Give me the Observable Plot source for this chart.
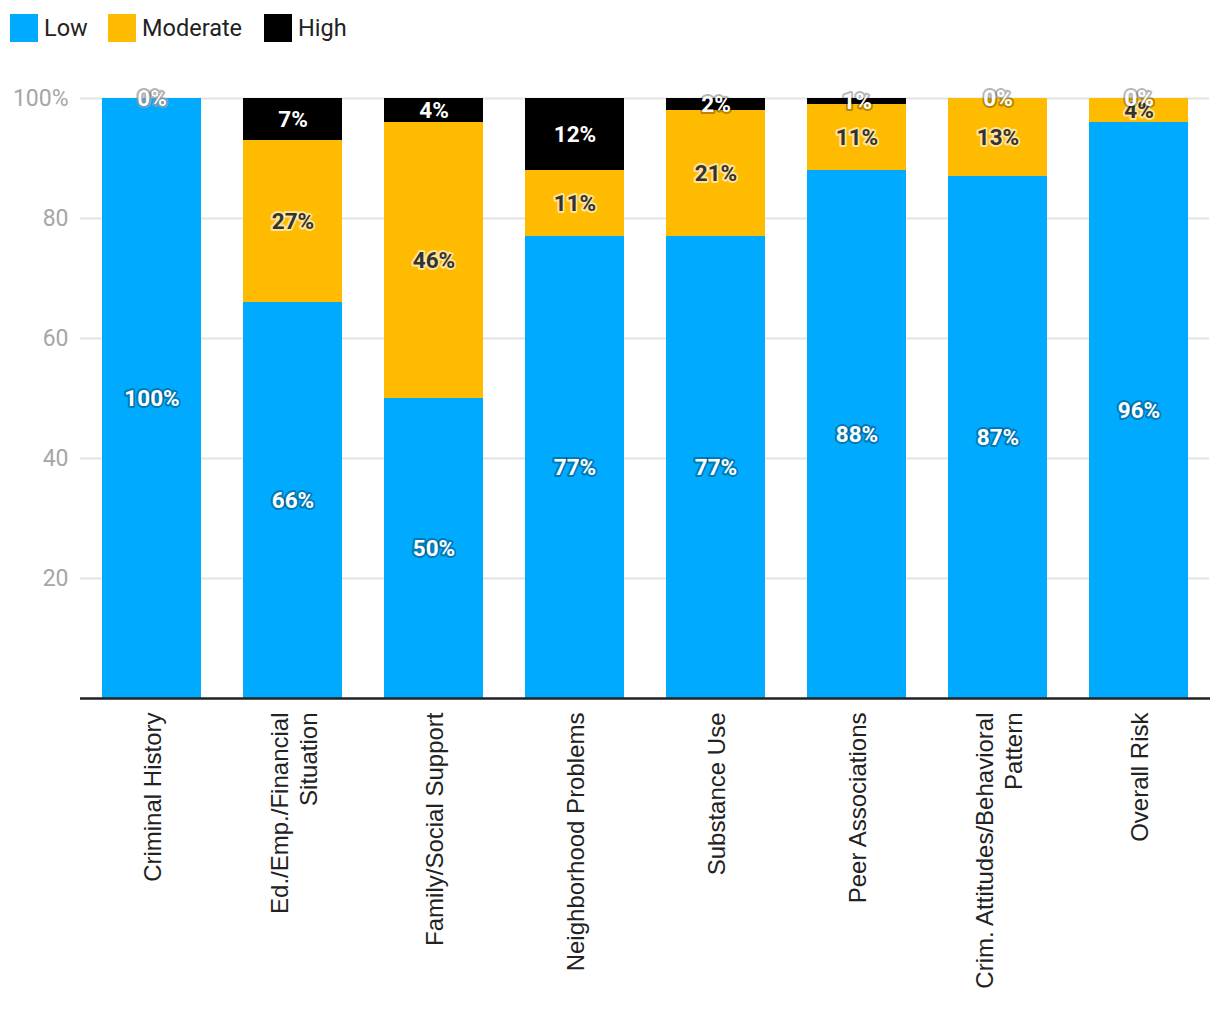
<!DOCTYPE html>
<html>
<head>
<meta charset="utf-8">
<script src="https://cdn.jsdelivr.net/npm/d3@7"></script>
<script src="https://cdn.jsdelivr.net/npm/@observablehq/plot@0.6"></script>
<style>
  html, body { margin: 0; padding: 0; background: #fff; }
  #legend { height: 60px; position: relative; font-family: Roboto, sans-serif; font-size: 23.5px; color: #222; }
  .item { position: absolute; top: 14px; display: flex; align-items: center; height: 28px; }
  .sw { width: 28px; height: 28px; margin-right: 6px; }
  svg { display: block; }
</style>
</head>
<body>
<div id="legend"></div>
<div id="chart"></div>
<script>
const categories = [
  "Criminal History",
  "Ed./Emp./Financial\nSituation",
  "Family/Social Support",
  "Neighborhood Problems",
  "Substance Use",
  "Peer Associations",
  "Crim. Attitudes/Behavioral\nPattern",
  "Overall Risk"
];
const levels = ["Low", "Moderate", "High"];
const lowValues = [100, 66, 50, 77, 77, 88, 87, 96];
const moderateValues = [0, 27, 46, 11, 21, 11, 13, 4];
const highValues = [0, 7, 4, 12, 2, 1, 0, 0];
const levelColors = ["#00aaff", "#ffbb00", "#000000"];
const yTicks = [20, 40, 60, 80, 100];

const series = [lowValues, moderateValues, highValues];
const data = [];
categories.forEach((c, i) => {
  let base = 0;
  levels.forEach((lv, j) => {
    const v = series[j][i];
    data.push({cat: c, level: lv, value: v, mid: base + v / 2});
    base += v;
  });
});

// legend
const legend = document.getElementById("legend");
const legendX = [10, 108, 264];
levels.forEach((lv, j) => {
  const d = document.createElement("div");
  d.className = "item";
  d.style.left = legendX[j] + "px";
  d.innerHTML = `<div class="sw" style="background:${levelColors[j]}"></div><span>${lv}</span>`;
  legend.appendChild(d);
});

const labelStyle = {
  Low: {fill: "#ffffff", stroke: "#000000", strokeOpacity: 0.3},
  Moderate: {fill: "#333333", stroke: "#ffffff", strokeOpacity: 0.6},
  High: {fill: "#ffffff", stroke: "#000000", strokeOpacity: 0.3}
};

const plot = Plot.plot({
  width: 1220,
  height: 970,
  marginTop: 38,
  marginBottom: 332,
  marginLeft: 81,
  marginRight: 11,
  style: {fontFamily: "Roboto, sans-serif", background: "#fff"},
  x: {domain: categories, paddingInner: 0.3, paddingOuter: 0.15, label: null},
  y: {domain: [0, 100], label: null},
  color: {domain: levels, range: levelColors},
  marks: [
    Plot.gridY(yTicks, {stroke: "#e3e3e3", strokeOpacity: 1, strokeWidth: 2, insetLeft: -1}),
    Plot.barY(data, {x: "cat", y: "value", fill: "level", order: levels}),
    Plot.axisY({
      ticks: yTicks, tickSize: 0, tickPadding: 13,
      tickFormat: d => d === 100 ? "100%" : String(d),
      fontSize: 23, fill: "#a6a6a6", fontFamily: "Roboto, sans-serif"
    }),
    Plot.axisX({
      tickSize: 0, tickPadding: 14, tickRotate: -90,
      fontSize: 24, fill: "#222", fontFamily: "'Liberation Sans', Arial, sans-serif",
      lineHeight: 1.2
    }),
    Plot.ruleY([0], {stroke: "#222", strokeWidth: 2.5, insetLeft: -1, insetRight: -1}),
    ...levels.map(lv => Plot.text(data.filter(d => d.level === lv), {
      x: "cat", y: "mid", text: d => d.value + "%",
      fontSize: 22.5, fontWeight: "bold", fontFamily: "Roboto, sans-serif",
      fill: labelStyle[lv].fill, stroke: labelStyle[lv].stroke,
      strokeOpacity: labelStyle[lv].strokeOpacity, strokeWidth: 4,
      paintOrder: "stroke"
    }))
  ]
});
document.getElementById("chart").appendChild(plot);
</script>
</body>
</html>
